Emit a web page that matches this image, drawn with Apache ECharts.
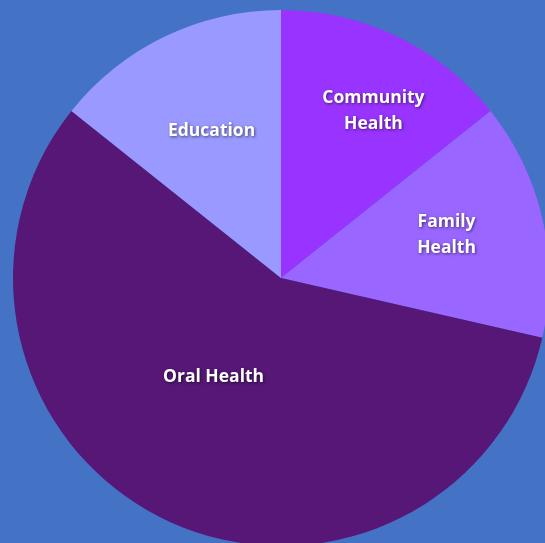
<!DOCTYPE html>
<html><head><meta charset="utf-8">
<script src="https://cdn.jsdelivr.net/npm/echarts@6/dist/echarts.min.js"></script>
<style>html,body{margin:0;padding:0;background:#4472C4;}#c{width:545px;height:543px;}</style>
</head><body><div id="c"></div>
<script>
const categories = ['Community\nHealth', 'Family\nHealth', 'Oral Health', 'Education'];
const values = [1, 1, 4, 1];
const colors = ['#9933FF', '#9966FF', '#561777', '#9999FF'];
const labelOffsets = [[33, -44], [32, -12], [-8, -24], [-10, -24]];

const chart = echarts.init(document.getElementById('c'), null, {renderer: 'canvas'});
chart.setOption({
  backgroundColor: '#4472C4',
  animation: false,
  series: [{
    type: 'pie',
    center: [281, 278],
    radius: [0, 268],
    startAngle: 90,
    clockwise: true,
    silent: true,
    label: {
      show: true,
      position: 'inside',
      color: '#fff',
      fontFamily: 'Open Sans',
      fontWeight: 'bold',
      fontSize: 17.5,
      lineHeight: 26,
      textShadowColor: 'rgba(0,0,0,0.55)',
      textShadowBlur: 3,
      textShadowOffsetX: 1,
      textShadowOffsetY: 1
    },
    labelLine: {show: false},
    itemStyle: {borderWidth: 0},
    data: categories.map((n, i) => ({
      name: n, value: values[i],
      itemStyle: {color: colors[i]},
      label: {offset: labelOffsets[i]}
    }))
  }]
});
</script></body></html>
